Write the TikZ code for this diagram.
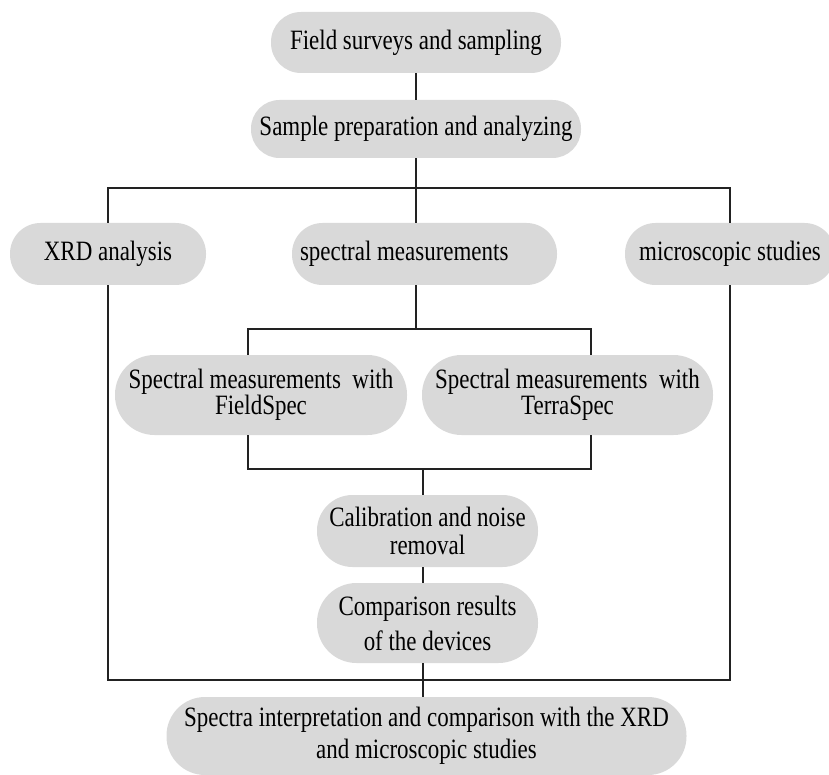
\documentclass[tikz,border=0pt]{standalone}
\usepackage{fontspec}
\setmainfont{Liberation Serif}[FakeStretch=0.82]
\definecolor{boxgray}{HTML}{D9D9D9}
\definecolor{linegray}{HTML}{222222}
\tikzset{
  pill/.style={fill=boxgray, draw=none, inner sep=0pt, align=center,
    font=\fontsize{28}{28}\selectfont, text=black},
  conn/.style={draw=linegray, line width=1.2pt}
}
\begin{document}
\begin{tikzpicture}[x=1pt,y=-1pt]
\useasboundingbox (0,0) rectangle (829,775);
\clip (0,0) rectangle (829,775);
% nodes
\node[pill, minimum width=290, minimum height=61, rounded corners=30] (n1) at (416,42.5) {Field surveys and sampling};
\node[pill, minimum width=330, minimum height=58, rounded corners=28.5] (n2) at (416,129) {Sample preparation and analyzing};
\node[pill, minimum width=196, minimum height=62, rounded corners=30.5] (xrd) at (108,254) {XRD analysis};
\node[pill, minimum width=265, minimum height=62, rounded corners=30.5, text width=249, align=flush left] (spec) at (424.5,254) {spectral measurements};
\node[pill, minimum width=210, minimum height=62, rounded corners=30.5] (micro) at (730,254) {microscopic studies};
\node[pill, minimum width=292, minimum height=80, rounded corners=39.5, font=\fontsize{28}{26}\selectfont] (fs) at (261,395) {Spectral measurements~ with\\FieldSpec};
\node[pill, minimum width=291, minimum height=80, rounded corners=39.5, font=\fontsize{28}{26}\selectfont] (ts) at (567.5,395) {Spectral measurements~ with\\TerraSpec};
\node[pill, minimum width=221, minimum height=72, rounded corners=35.5, font=\fontsize{28}{28}\selectfont] (cal) at (427.5,531) {Calibration and noise\\removal};
\node[pill, minimum width=221, minimum height=80, rounded corners=39.5, font=\fontsize{28}{35}\selectfont] (cmp) at (427.5,623) {Comparison results\\of the devices};
\node[pill, minimum width=520, minimum height=78, rounded corners=38.5, font=\fontsize{28}{32}\selectfont] (fin) at (426.5,736) {Spectra interpretation and comparison with the XRD\\and microscopic studies};
% junction coordinates
\coordinate (j1) at (416,188);
\coordinate (a1) at (248,329);
\coordinate (a2) at (591,329);
\coordinate (b1) at (248,469);
\coordinate (b2) at (591,469);
\coordinate (b3) at (423,469);
\coordinate (c1) at (423,680);
% connectors
\draw[conn] (n1) -- (n2);
\draw[conn] (n2.south) -- (j1);
\draw[conn] (xrd.north) -- (xrd.north |- j1) -- (micro.north |- j1) -- (micro.north);
\draw[conn] (j1) -- (spec.north -| j1);
\draw[conn] (spec.south -| j1) -- (j1 |- a1);
\draw[conn] (fs.north -| a1) -- (a1) -- (a2) -- (ts.north -| a2);
\draw[conn] (fs.south -| b1) -- (b1) -- (b2) -- (ts.south -| b2);
\draw[conn] (b3) -- (cal.north -| b3);
\draw[conn] (cal.south -| b3) -- (cmp.north -| b3);
\draw[conn] (xrd.south) -- (xrd.south |- c1) -- (micro.south |- c1) -- (micro.south);
\draw[conn] (cmp.south -| c1) -- (fin.north -| c1);
\end{tikzpicture}
\end{document}
